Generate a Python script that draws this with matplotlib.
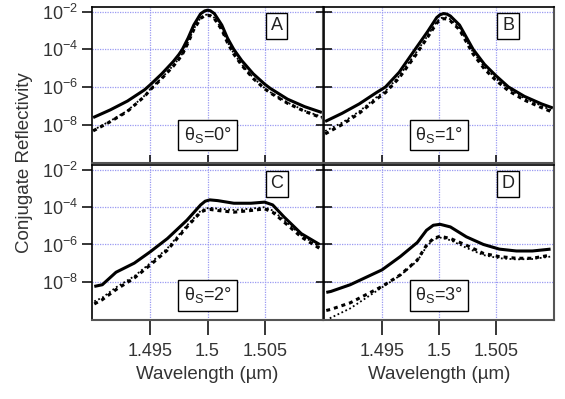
import numpy as np
import matplotlib
matplotlib.use('Agg')
import matplotlib.pyplot as plt
import matplotlib.transforms as mtransforms

plt.rcParams['font.family'] = ['Liberation Sans', 'DejaVu Sans']
plt.rcParams['mathtext.fontset'] = 'custom'
plt.rcParams['mathtext.rm'] = 'Liberation Sans'
plt.rcParams['mathtext.it'] = 'Liberation Sans'
plt.rcParams['mathtext.bf'] = 'Liberation Sans'

# ---------------- data (log10 of reflectivity) ----------------
lam_A = [1.4900, 1.4915, 1.4930, 1.4945, 1.4950, 1.4960, 1.4970, 1.4975, 1.4978, 1.4983,
         1.4988, 1.4994, 1.49975, 1.5000, 1.50025, 1.5006, 1.50125, 1.50175, 1.5023, 1.5030,
         1.5040, 1.5050, 1.5055, 1.5070, 1.5085, 1.5100]
solid_A = [-7.63, -7.22, -6.75, -6.15, -5.88, -5.30, -4.65, -4.27, -4.00, -3.40,
           -2.70, -2.10, -1.95, -1.91, -1.94, -2.09, -2.70, -3.40, -4.00, -4.60,
           -5.30, -5.85, -6.08, -6.65, -7.05, -7.36]
dashed_A = [-8.34, -7.85, -7.30, -6.50, -6.15, -5.55, -4.90, -4.52, -4.27, -3.65,
            -2.95, -2.35, -2.21, -2.18, -2.21, -2.36, -2.95, -3.65, -4.25, -4.85,
            -5.55, -6.10, -6.32, -6.87, -7.30, -7.65]
dotted_A = [-8.30, -7.81, -7.26, -6.46, -6.11, -5.51, -4.86, -4.48, -4.23, -3.61,
            -2.91, -2.31, -2.17, -2.14, -2.17, -2.32, -2.91, -3.61, -4.21, -4.81,
            -5.51, -6.06, -6.28, -6.83, -7.26, -7.60]

lam_B = [1.4900, 1.4915, 1.4930, 1.4945, 1.4953, 1.4965, 1.4979, 1.4990, 1.4998, 1.5001,
         1.5004, 1.5007, 1.5010, 1.5018, 1.5030, 1.5040, 1.5050, 1.5061, 1.5075, 1.5090,
         1.5100]
solid_B = [-7.84, -7.40, -6.90, -6.30, -6.00, -5.22, -4.00, -3.05, -2.30, -2.15,
           -2.09, -2.12, -2.22, -2.70, -4.00, -4.80, -5.40, -6.00, -6.50, -6.90,
           -7.12]
dashed_B = [-8.50, -8.00, -7.40, -6.65, -6.30, -5.52, -4.35, -3.35, -2.60, -2.43,
            -2.36, -2.38, -2.48, -2.95, -4.25, -5.05, -5.65, -6.20, -6.70, -7.10,
            -7.35]
dotted_B = [-8.35, -7.90, -7.30, -6.55, -6.22, -5.42, -4.25, -3.27, -2.52, -2.35,
            -2.28, -2.30, -2.40, -2.87, -4.15, -4.95, -5.55, -6.10, -6.60, -7.00,
            -7.28]

lam_C = [1.4901, 1.4908, 1.4920, 1.4936, 1.4950, 1.4965, 1.4982, 1.4994, 1.4998, 1.5002,
         1.5009, 1.5023, 1.5038, 1.5050, 1.5057, 1.5067, 1.5082, 1.5098]
solid_C = [-8.25, -8.16, -7.49, -7.00, -6.39, -5.68, -4.70, -3.88, -3.68, -3.61,
           -3.65, -3.79, -3.79, -3.73, -3.88, -4.53, -5.42, -6.00]
dashed_C = [-9.19, -8.96, -8.42, -7.80, -7.10, -6.30, -5.06, -4.27, -4.16, -4.12,
            -4.18, -4.27, -4.18, -4.09, -4.27, -4.80, -5.60, -6.21]
dotted_C = [-9.05, -8.85, -8.30, -7.70, -7.00, -6.20, -4.98, -4.20, -4.08, -4.03,
            -4.08, -4.15, -4.08, -4.00, -4.18, -4.70, -5.50, -6.12]

lam_D = [1.4901, 1.4905, 1.4922, 1.4950, 1.4966, 1.4981, 1.4989, 1.4995, 1.5001, 1.5010,
         1.5024, 1.5039, 1.5053, 1.5068, 1.5082, 1.5098]
solid_D = [-8.57, -8.52, -8.16, -7.36, -6.65, -5.89, -5.24, -4.97, -4.92, -5.06,
           -5.59, -6.00, -6.25, -6.35, -6.35, -6.25]
dashed_D = [-9.54, -9.48, -9.13, -8.25, -7.63, -6.83, -6.04, -5.68, -5.56, -5.68,
            -6.04, -6.48, -6.65, -6.74, -6.74, -6.57]
dotted_D = [-10.10, -9.93, -9.43, -8.30, -7.66, -6.88, -6.12, -5.73, -5.63, -5.77,
            -6.18, -6.57, -6.74, -6.80, -6.78, -6.65]

panel_letters = ['A', 'B', 'C', 'D']
angle_labels = ['0', '1', '2', '3']
x_ticks = [1.495, 1.5, 1.505]
x_ticklabels = ['1.495', '1.5', '1.505']
y_ticks = [1e-2, 1e-4, 1e-6, 1e-8]
y_ticklabels = [r'$\mathregular{10^{-2}}$', r'$\mathregular{10^{-4}}$',
                r'$\mathregular{10^{-6}}$', r'$\mathregular{10^{-8}}$']

# ---------------- figure ----------------
W, H = 565, 399
fig = plt.figure(figsize=(W / 100, H / 100), dpi=100)

def rect(x0, y0, x1, y1):
    return [x0 / W, 1 - y1 / H, (x1 - x0) / W, (y1 - y0) / H]

axA = fig.add_axes(rect(92, 7, 323, 163))
axB = fig.add_axes(rect(324, 7, 554, 163))
axC = fig.add_axes(rect(92, 165, 323, 320))
axD = fig.add_axes(rect(324, 165, 554, 320))
axes = [axA, axB, axC, axD]

data = [(lam_A, solid_A, dashed_A, dotted_A),
        (lam_B, solid_B, dashed_B, dotted_B),
        (lam_C, solid_C, dashed_C, dotted_C),
        (lam_D, solid_D, dashed_D, dotted_D)]

grid_col = '#9a9af2'
for i, ax in enumerate(axes):
    lam, s, d, o = data[i]
    lam = np.array(lam)
    ax.plot(lam, 10 ** np.array(o), color='black', lw=1.3, linestyle=(0, (1, 1.4)))
    ax.plot(lam, 10 ** np.array(d), color='black', lw=2.2, linestyle=(0, (1.3, 1.3)))
    ax.plot(lam, 10 ** np.array(s), color='black', lw=2.2, solid_capstyle='butt',
            solid_joinstyle='round')
    ax.set_yscale('log')
    ax.set_xlim(1.4899, 1.5101)
    ax.set_ylim(10 ** -10.05, 10 ** -1.74)
    ax.set_xticks(x_ticks)
    ax.set_yticks(y_ticks)
    ax.minorticks_off()
    ax.grid(True, color=grid_col, linestyle=(0, (1, 1)), lw=0.9)
    ax.set_axisbelow(True)
    for side in ['left', 'top']:
        ax.spines[side].set_color('black')
        ax.spines[side].set_linewidth(1.2)
    for side in ['right', 'bottom']:
        ax.spines[side].set_color('#555555')
        ax.spines[side].set_linewidth(1.5)

    # tick styles
    if i in (0, 2):
        ax.tick_params(axis='y', direction='out', length=7.2, width=1.1, pad=3,
                       labelsize=13)
        ax.set_yticklabels(y_ticklabels)
    else:
        ax.tick_params(axis='y', direction='inout', length=12, width=1.1,
                       labelleft=False)
    if i in (0, 1):
        ax.tick_params(axis='x', direction='in', length=6, width=1.1,
                       labelbottom=False)
    else:
        ax.tick_params(axis='x', direction='out', length=10.8, width=1.1, pad=6,
                       labelsize=13)
        ax.set_xticklabels(x_ticklabels)
        ax.set_xlabel('Wavelength (µm)', fontsize=13.5, labelpad=4, color='#333333')
    ax.tick_params(colors='black', labelcolor='#333333')

    # panel letter
    ax.text(0.80, 0.88, panel_letters[i], transform=ax.transAxes, fontsize=13,
            ha='center', va='center', color='#222222',
            bbox=dict(boxstyle='square,pad=0.25', fc='white', ec='black', lw=1.0))
    # angle label
    trans = mtransforms.blended_transform_factory(ax.transData, ax.transAxes)
    ypos = 0.18 if i < 2 else 0.16
    ax.text(1.5, ypos, r'$\mathregular{θ_S}$=' + angle_labels[i] + '°', transform=trans,
            fontsize=13, ha='center', va='center', color='#222222',
            bbox=dict(boxstyle='square,pad=0.3', fc='white', ec='black', lw=1.0))

fig.text(0.044, 1 - 163 / H, 'Conjugate Reflectivity', rotation=90, fontsize=13.5,
         ha='center', va='center', color='#333333')

fig.savefig('out.png', dpi=100)
